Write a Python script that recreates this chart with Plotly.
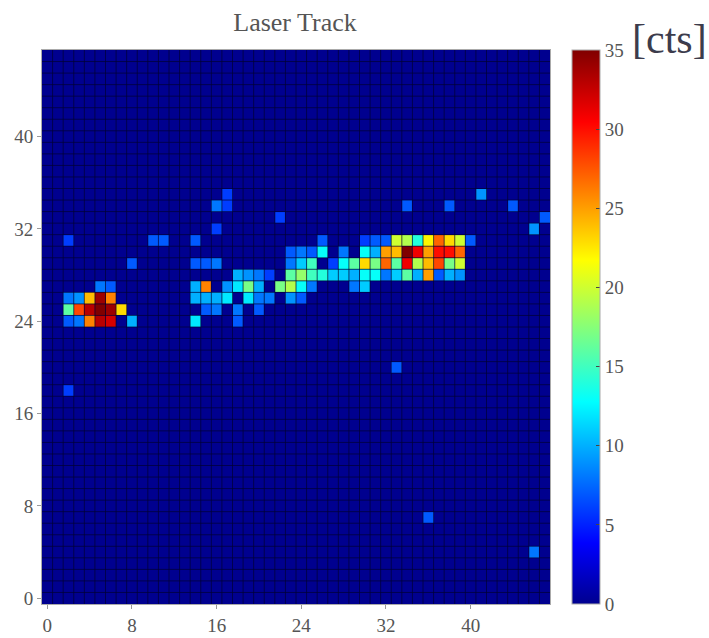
import plotly.graph_objects as go

GRID_SIZE = 48
TITLE = "Laser Track"
UNIT = "[cts]"

# Non-zero cells, grouped by image row
row_ys = [35, 34, 33, 32, 31, 30, 29, 28, 27, 26, 25, 24, 20, 18, 7, 4]
row_xs = [
    [17, 41],
    [16, 17, 34, 38, 44],
    [22, 47],
    [16, 46],
    [2, 10, 11, 14, 26, 30, 31, 32, 33, 34, 35, 36, 37, 38, 39, 40],
    [23, 24, 25, 26, 28, 30, 31, 32, 33, 34, 35, 36, 37, 38, 39],
    [8, 14, 15, 16, 23, 24, 25, 27, 28, 29, 30, 31, 32, 33, 34, 35, 36, 37, 38, 39],
    [18, 19, 20, 21, 23, 24, 25, 26, 27, 28, 29, 30, 31, 32, 33, 34, 35, 36, 37, 38, 39],
    [5, 6, 14, 15, 17, 18, 19, 20, 22, 23, 24, 25, 29, 30],
    [2, 3, 4, 5, 6, 14, 15, 16, 17, 19, 20, 21, 23, 24],
    [2, 3, 4, 5, 6, 7, 15, 16, 18, 20],
    [2, 3, 4, 5, 6, 8, 14, 18],
    [33],
    [2],
    [36],
    [46],
]
row_counts = [
    [6, 9],
    [8, 6, 7, 7, 7],
    [6, 7],
    [6, 9],
    [6, 7, 7, 7, 7, 6, 7, 7, 20, 19, 14, 22, 27, 23, 20, 7],
    [7, 8, 7, 13, 8, 13, 10, 25, 24, 35, 31, 25, 30, 30, 27],
    [7, 7, 7, 8, 8, 11, 15, 6, 13, 16, 23, 17, 27, 16, 31, 19, 24, 28, 17, 20],
    [10, 9, 8, 6, 16, 18, 15, 14, 11, 11, 10, 13, 13, 8, 11, 16, 10, 25, 7, 10, 9],
    [8, 7, 10, 26, 9, 12, 17, 10, 17, 19, 13, 8, 8, 11],
    [8, 9, 24, 34, 26, 10, 10, 10, 12, 12, 8, 8, 9, 7],
    [16, 28, 33, 35, 34, 23, 7, 8, 8, 7],
    [7, 8, 26, 33, 32, 10, 12, 7],
    [7],
    [6],
    [7],
    [8],
]

x_ticks = [0, 8, 16, 24, 32, 40]
y_ticks = [0, 8, 16, 24, 32, 40]
bar_ticks = [0, 5, 10, 15, 20, 25, 30, 35]

z = [[0] * GRID_SIZE for _ in range(GRID_SIZE)]
for y, xs, counts in zip(row_ys, row_xs, row_counts):
    for x, c in zip(xs, counts):
        z[y][x] = c

jet = [
    [0.0, "#00008f"], [0.11, "#0000ff"], [0.365, "#00ffff"],
    [0.62, "#ffff00"], [0.87, "#ff0000"], [1.0, "#800000"],
]

serif = "Liberation Serif"
text_color = "#555555"

fig = go.Figure(go.Heatmap(
    z=z,
    zmin=0,
    zmax=35,
    colorscale=jet,
    colorbar=dict(
        x=1.043, xanchor="left", xpad=0, y=0.5, yanchor="middle", ypad=0,
        len=1, lenmode="fraction", thickness=28, thicknessmode="pixels",
        tickvals=bar_ticks, ticks="inside", ticklen=4, tickcolor="#444",
        tickfont=dict(family=serif, size=19, color=text_color),
        outlinecolor="#aaa", outlinewidth=1,
    ),
))

axis_common = dict(
    range=[-0.5, GRID_SIZE - 0.5],
    ticks="outside", ticklen=4, tickcolor="#999", tickwidth=1,
    showline=True, linecolor="#aaa", linewidth=1, mirror=True,
    showgrid=False, zeroline=False,
    tickfont=dict(family=serif, size=19, color=text_color),
)
fig.update_xaxes(tickvals=x_ticks, **axis_common)
fig.update_yaxes(tickvals=y_ticks, **axis_common)

# Soft cell-boundary lines over the heatmap
grid_line = dict(color="rgba(0,0,50,0.7)", width=1)
for i in range(1, GRID_SIZE):
    fig.add_shape(type="line", xref="x", yref="paper", x0=i - 0.5, x1=i - 0.5, y0=0, y1=1, line=grid_line)
    fig.add_shape(type="line", xref="paper", yref="y", x0=0, x1=1, y0=i - 0.5, y1=i - 0.5, line=grid_line)

fig.update_layout(
    width=709, height=638,
    margin=dict(l=42, r=159, t=50, b=34, autoexpand=False),
    paper_bgcolor="white",
    plot_bgcolor="#00008f",
    title=dict(text=TITLE, x=295 / 709, xanchor="center", y=1 - 22 / 638, yanchor="middle",
               font=dict(family=serif, size=26, color=text_color)),
    annotations=[dict(
        text=UNIT, xref="paper", yref="paper", x=(632 - 42) / 508, xanchor="left",
        y=1 + 11 / 554, yanchor="middle", showarrow=False, xshift=-2,
        font=dict(family=serif, size=42, color="#3c3c4c"),
    )],
)
fig.write_html("out.html", config={"displayModeBar": False},
               post_script="document.body.style.margin='0';document.documentElement.style.overflow='hidden';")
